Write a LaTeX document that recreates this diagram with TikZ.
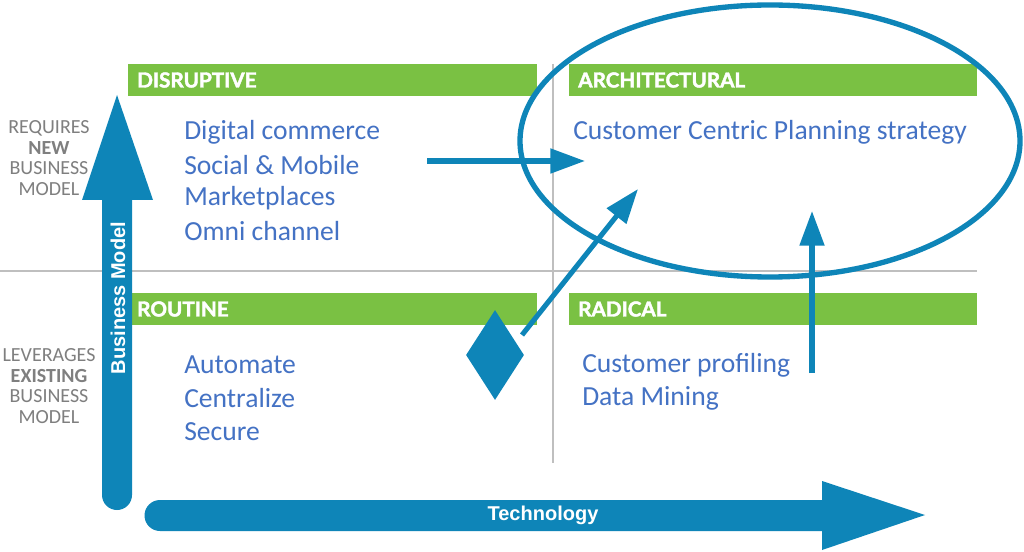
\documentclass[tikz,border=0pt]{standalone}
\usepackage{fontspec}
\setmainfont{Carlito}
\newfontfamily\headfont{Lato}[BoldFeatures={FakeBold=2}]
\newfontfamily\arialfont{Liberation Sans}
\usetikzlibrary{shapes.geometric,arrows.meta}
\definecolor{barGreen}{HTML}{7AC143}
\definecolor{arrBlue}{HTML}{0E85B8}
\definecolor{txtBlue}{HTML}{4472C4}
\definecolor{lblGray}{HTML}{7F7F7F}
\definecolor{lineGray}{HTML}{BFBFBF}
\tikzset{
  bar/.style={fill=barGreen, draw=none, minimum height=24pt, inner sep=0pt, anchor=north west},
  bartext/.style={text=white, font=\headfont\bfseries\fontsize{15.5pt}{17pt}\selectfont, anchor=west, inner sep=0pt},
  body/.style={text=txtBlue, font=\fontsize{20.7pt}{24.75pt}\selectfont, anchor=west, inner sep=0pt, align=left},
  side/.style={text=lblGray, font=\fontsize{15pt}{15.5pt}\selectfont, align=center, inner sep=0pt},
  gridline/.style={draw=lineGray, line width=1pt},
  flow/.style={draw=arrBlue, line width=3.8pt, -{Triangle[width=18pt,length=26pt]}},
  axislabel/.style={text=white, font=\arialfont\bfseries\fontsize{15pt}{17pt}\selectfont, inner sep=0pt}
}
\begin{document}
\begin{tikzpicture}[x=0.75pt,y=-0.75pt]
\useasboundingbox (0,0) rectangle (1024,552);
\fill[white] (0,0) rectangle (1024,552);
% grid lines
\coordinate (hl0) at (0,271);
\coordinate (hl1) at (977,271);
\coordinate (vl0) at (553,64);
\coordinate (vl1) at (553,463);
\draw[gridline] (hl0) -- (hl1);
\draw[gridline] (vl0) -- (vl1);
% green bars
\node[bar, minimum width=306.75pt] (bDis) at (128,64) {};
\node[bar, minimum width=306pt] (bArc) at (569,64) {};
\node[bar, minimum width=306.75pt] (bRou) at (128,293) {};
\node[bar, minimum width=306pt] (bRad) at (569,293) {};
\node[bartext] (tDis) at (137,80) {DISRUPTIVE};
\node[bartext] (tArc) at (578,80) {ARCHITECTURAL};
\node[bartext] (tRou) at (137,309) {ROUTINE};
\node[bartext] (tRad) at (578,309) {RADICAL};
% body texts
\node[body] (dis1) at (184,132) {Digital commerce};
\node[body] (dis2) at (184,165) {Social \& Mobile};
\node[body] (dis3) at (184,198) {Marketplaces};
\node[body] (dis4) at (184,231) {Omni channel};
\node[body] (arc1) at (573,132) {Customer Centric Planning strategy};
\node[body] (rou1) at (184,365) {Automate};
\node[body] (rou2) at (184,398) {Centralize};
\node[body] (rou3) at (184,432) {Secure};
\node[body] (rad1) at (582,365) {Customer profiling};
\node[body] (rad2) at (582,398) {Data Mining};
% side labels
\node[side] (req) at (49,158) {REQUIRES\\\textbf{NEW}\\BUSINESS\\MODEL};
\node[side] (lev) at (49,386) {LEVERAGES\\\textbf{EXISTING}\\BUSINESS\\MODEL};
% business model arrow
\fill[arrBlue] (102,200) -- (102,495) arc[start angle=180,end angle=0,radius=15] -- (132,200) -- (153,200) -- (117,95) -- (82,200) -- cycle;
\node[axislabel, rotate=90] (bm) at (118,298) {Business Model};
% technology arrow
\fill[arrBlue] (822,500) -- (160,500) arc[start angle=270,end angle=90,radius=15.5] -- (822,531) -- (822,550) -- (925,515) -- (822,481) -- cycle;
\node[axislabel] (tech) at (543,515) {Technology};
% ellipse
\node[draw=arrBlue, line width=4pt, ellipse, minimum width=375pt, minimum height=204pt, inner sep=0pt] (ell) at (770,141) {};
% diamond
\node[diamond, fill=arrBlue, minimum width=43.5pt, minimum height=67.5pt, inner sep=0pt] (dia) at (495,355) {};
% flow arrows
\coordinate (a1s) at (427,161);
\coordinate (a1e) at (585,161);
\coordinate (a2s) at (522,335);
\coordinate (a2e) at (638,189);
\coordinate (a3s) at (812,373);
\coordinate (a3e) at (812,211);
\draw[flow] (a1s) -- (a1e);
\draw[flow] (a2s) -- (a2e);
\draw[flow] (a3s) -- (a3e);
\end{tikzpicture}
\end{document}
